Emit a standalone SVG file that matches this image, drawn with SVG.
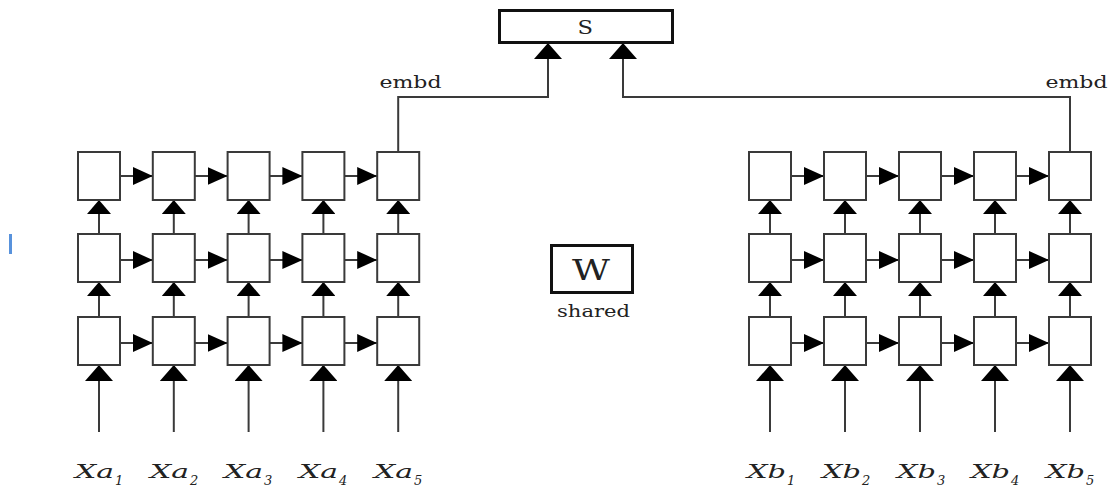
<svg xmlns="http://www.w3.org/2000/svg" width="1113" height="488" viewBox="0 0 1113 488">
<style>
.cell{fill:#fff;stroke:#3a3a3a;stroke-width:2}
.big{fill:#fff;stroke:#111;stroke-width:3}
.ln{fill:none;stroke:#3a3a3a;stroke-width:2}
.t{font-family:"DejaVu Serif","Liberation Serif",serif;fill:#222}
.lab{font-family:"DejaVu Serif","Liberation Serif",serif;font-style:italic;fill:#222;font-size:18px}
.sub{font-size:13px}
</style>
<defs>
<marker id="mh" markerUnits="userSpaceOnUse" viewBox="0 0 20 18" markerWidth="20" markerHeight="18" refX="20" refY="9" orient="auto"><path d="M0,0 L20,9 L0,18 z" fill="#000"/></marker>
<marker id="mv" markerUnits="userSpaceOnUse" viewBox="0 0 14 24" markerWidth="14" markerHeight="24" refX="14" refY="12" orient="auto"><path d="M0,0 L14,12 L0,24 z" fill="#000"/></marker>
<marker id="mb" markerUnits="userSpaceOnUse" viewBox="0 0 16 28" markerWidth="16" markerHeight="28" refX="16" refY="14" orient="auto"><path d="M0,0 L16,14 L0,28 z" fill="#000"/></marker>
</defs>
<rect width="1113" height="488" fill="#fff"/>
<rect x="9" y="234" width="3" height="20" fill="#3b7fd6" opacity="0.85"/>

<g id="connectors">
<!-- left horizontal -->
<g marker-end="url(#mh)" class="ln">
<line x1="120" y1="176" x2="152.8" y2="176"/><line x1="194.8" y1="176" x2="227.6" y2="176"/><line x1="269.6" y1="176" x2="302.4" y2="176"/><line x1="344.4" y1="176" x2="377.2" y2="176"/>
<line x1="120" y1="260" x2="152.8" y2="260"/><line x1="194.8" y1="260" x2="227.6" y2="260"/><line x1="269.6" y1="260" x2="302.4" y2="260"/><line x1="344.4" y1="260" x2="377.2" y2="260"/>
<line x1="120" y1="343" x2="152.8" y2="343"/><line x1="194.8" y1="343" x2="227.6" y2="343"/><line x1="269.6" y1="343" x2="302.4" y2="343"/><line x1="344.4" y1="343" x2="377.2" y2="343"/>
<line x1="791" y1="176" x2="824" y2="176"/><line x1="866" y1="176" x2="899" y2="176"/><line x1="941" y1="176" x2="974" y2="176"/><line x1="1016" y1="176" x2="1049" y2="176"/>
<line x1="791" y1="260" x2="824" y2="260"/><line x1="866" y1="260" x2="899" y2="260"/><line x1="941" y1="260" x2="974" y2="260"/><line x1="1016" y1="260" x2="1049" y2="260"/>
<line x1="791" y1="343" x2="824" y2="343"/><line x1="866" y1="343" x2="899" y2="343"/><line x1="941" y1="343" x2="974" y2="343"/><line x1="1016" y1="343" x2="1049" y2="343"/>
</g>
<!-- vertical between rows -->
<g marker-end="url(#mv)" class="ln">
<line x1="99" y1="234" x2="99" y2="200"/><line x1="173.8" y1="234" x2="173.8" y2="200"/><line x1="248.6" y1="234" x2="248.6" y2="200"/><line x1="323.4" y1="234" x2="323.4" y2="200"/><line x1="398.2" y1="234" x2="398.2" y2="200"/>
<line x1="99" y1="317" x2="99" y2="282"/><line x1="173.8" y1="317" x2="173.8" y2="282"/><line x1="248.6" y1="317" x2="248.6" y2="282"/><line x1="323.4" y1="317" x2="323.4" y2="282"/><line x1="398.2" y1="317" x2="398.2" y2="282"/>
<line x1="770" y1="234" x2="770" y2="200"/><line x1="845" y1="234" x2="845" y2="200"/><line x1="920" y1="234" x2="920" y2="200"/><line x1="995" y1="234" x2="995" y2="200"/><line x1="1070" y1="234" x2="1070" y2="200"/>
<line x1="770" y1="317" x2="770" y2="282"/><line x1="845" y1="317" x2="845" y2="282"/><line x1="920" y1="317" x2="920" y2="282"/><line x1="995" y1="317" x2="995" y2="282"/><line x1="1070" y1="317" x2="1070" y2="282"/>
</g>
<!-- inputs -->
<g marker-end="url(#mb)" class="ln">
<line x1="99" y1="432" x2="99" y2="365"/><line x1="173.8" y1="432" x2="173.8" y2="365"/><line x1="248.6" y1="432" x2="248.6" y2="365"/><line x1="323.4" y1="432" x2="323.4" y2="365"/><line x1="398.2" y1="432" x2="398.2" y2="365"/>
<line x1="770" y1="432" x2="770" y2="365"/><line x1="845" y1="432" x2="845" y2="365"/><line x1="920" y1="432" x2="920" y2="365"/><line x1="995" y1="432" x2="995" y2="365"/><line x1="1070" y1="432" x2="1070" y2="365"/>
<path d="M398.2,152 V97 H548 V43"/>
<path d="M1070,152 V97 H623 V43"/>
</g>
</g>

<g id="left-lstm">
<rect class="cell" x="78" y="152" width="42" height="48"/><rect class="cell" x="152.8" y="152" width="42" height="48"/><rect class="cell" x="227.6" y="152" width="42" height="48"/><rect class="cell" x="302.4" y="152" width="42" height="48"/><rect class="cell" x="377.2" y="152" width="42" height="48"/>
<rect class="cell" x="78" y="234" width="42" height="48"/><rect class="cell" x="152.8" y="234" width="42" height="48"/><rect class="cell" x="227.6" y="234" width="42" height="48"/><rect class="cell" x="302.4" y="234" width="42" height="48"/><rect class="cell" x="377.2" y="234" width="42" height="48"/>
<rect class="cell" x="78" y="317" width="42" height="48"/><rect class="cell" x="152.8" y="317" width="42" height="48"/><rect class="cell" x="227.6" y="317" width="42" height="48"/><rect class="cell" x="302.4" y="317" width="42" height="48"/><rect class="cell" x="377.2" y="317" width="42" height="48"/>
</g>
<g id="right-lstm">
<rect class="cell" x="749" y="152" width="42" height="48"/><rect class="cell" x="824" y="152" width="42" height="48"/><rect class="cell" x="899" y="152" width="42" height="48"/><rect class="cell" x="974" y="152" width="42" height="48"/><rect class="cell" x="1049" y="152" width="42" height="48"/>
<rect class="cell" x="749" y="234" width="42" height="48"/><rect class="cell" x="824" y="234" width="42" height="48"/><rect class="cell" x="899" y="234" width="42" height="48"/><rect class="cell" x="974" y="234" width="42" height="48"/><rect class="cell" x="1049" y="234" width="42" height="48"/>
<rect class="cell" x="749" y="317" width="42" height="48"/><rect class="cell" x="824" y="317" width="42" height="48"/><rect class="cell" x="899" y="317" width="42" height="48"/><rect class="cell" x="974" y="317" width="42" height="48"/><rect class="cell" x="1049" y="317" width="42" height="48"/>
</g>

<g id="S">
<rect class="big" x="499.5" y="10.5" width="173" height="32"/>
<text class="t" x="577.5" y="34" font-size="19" textLength="15.5" lengthAdjust="spacingAndGlyphs">S</text>
</g>
<g id="W">
<rect class="big" x="551.5" y="245.5" width="81" height="47"/>
<text class="t" x="572" y="280" font-size="27" textLength="38" lengthAdjust="spacingAndGlyphs">W</text>
<text class="t" x="557" y="317" font-size="17" textLength="73" lengthAdjust="spacingAndGlyphs">shared</text>
</g>
<g id="embd-labels">
<text class="t" x="379.5" y="88" font-size="16" textLength="62" lengthAdjust="spacingAndGlyphs">embd</text>
<text class="t" x="1045.5" y="88" font-size="16" textLength="62" lengthAdjust="spacingAndGlyphs">embd</text>
</g>
<g id="inputs-a">
<text class="lab" x="75" y="478"><tspan textLength="39" lengthAdjust="spacingAndGlyphs">Xa</tspan><tspan class="sub" x="115" y="485">1</tspan></text>
<text class="lab" x="150" y="478"><tspan textLength="39" lengthAdjust="spacingAndGlyphs">Xa</tspan><tspan class="sub" x="190" y="485">2</tspan></text>
<text class="lab" x="224" y="478"><tspan textLength="39" lengthAdjust="spacingAndGlyphs">Xa</tspan><tspan class="sub" x="264" y="485">3</tspan></text>
<text class="lab" x="299" y="478"><tspan textLength="39" lengthAdjust="spacingAndGlyphs">Xa</tspan><tspan class="sub" x="339" y="485">4</tspan></text>
<text class="lab" x="374" y="478"><tspan textLength="39" lengthAdjust="spacingAndGlyphs">Xa</tspan><tspan class="sub" x="414" y="485">5</tspan></text>
</g>
<g id="inputs-b">
<text class="lab" x="747" y="478"><tspan textLength="39" lengthAdjust="spacingAndGlyphs">Xb</tspan><tspan class="sub" x="787" y="485">1</tspan></text>
<text class="lab" x="822" y="478"><tspan textLength="39" lengthAdjust="spacingAndGlyphs">Xb</tspan><tspan class="sub" x="862" y="485">2</tspan></text>
<text class="lab" x="897" y="478"><tspan textLength="39" lengthAdjust="spacingAndGlyphs">Xb</tspan><tspan class="sub" x="937" y="485">3</tspan></text>
<text class="lab" x="971" y="478"><tspan textLength="39" lengthAdjust="spacingAndGlyphs">Xb</tspan><tspan class="sub" x="1011" y="485">4</tspan></text>
<text class="lab" x="1046" y="478"><tspan textLength="39" lengthAdjust="spacingAndGlyphs">Xb</tspan><tspan class="sub" x="1086" y="485">5</tspan></text>
</g>
</svg>
